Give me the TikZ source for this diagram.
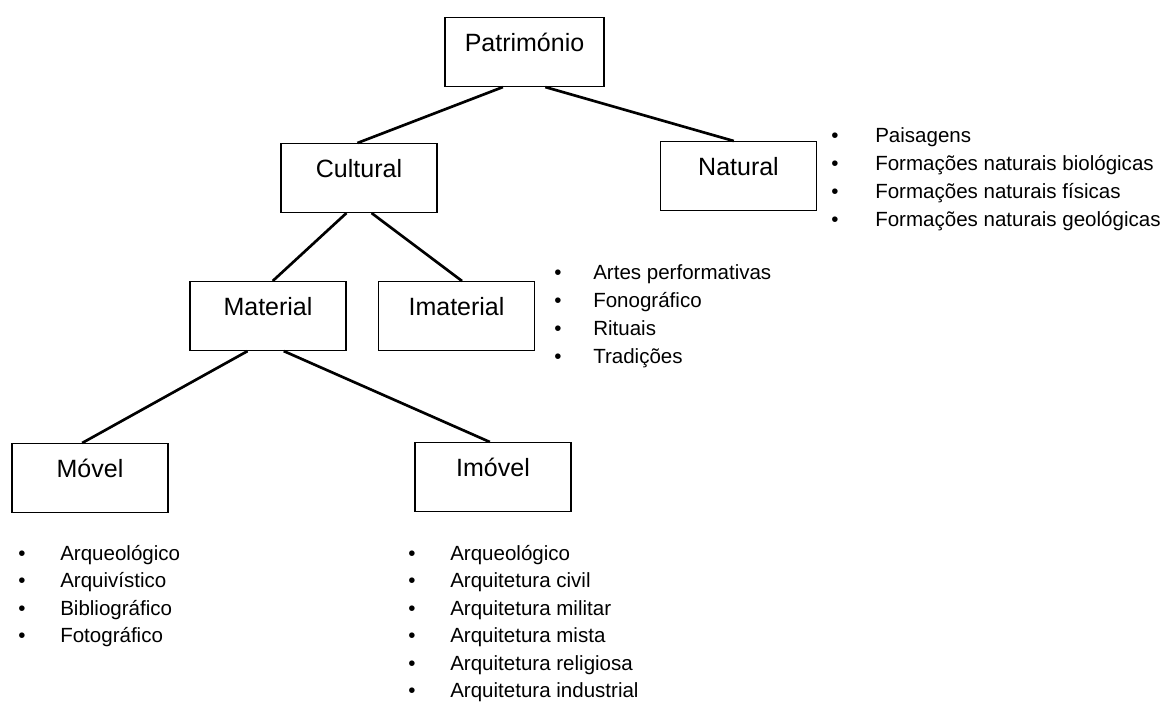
\documentclass[tikz,border=0pt]{standalone}
\usepackage{fontspec}
\setmainfont{Liberation Sans}
\usetikzlibrary{calc}
\tikzset{
  box/.style={draw, line width=0.8pt, rectangle, inner sep=0pt, minimum width=117pt,
    text height=25.5pt, text depth=26.25pt, anchor=north,
    font=\fontsize{18.75pt}{22pt}\selectfont},
  conn/.style={line width=2pt},
  itemtxt/.style={anchor=base west, inner sep=0pt, font=\fontsize{15.4pt}{18pt}\selectfont},
  bul/.style={anchor=base, inner sep=0pt, font=\fontsize{15.4pt}{18pt}\selectfont},
}
\begin{document}
\begin{tikzpicture}[x=0.75pt, y=-0.75pt]
\useasboundingbox (0,0) rectangle (1166,702);
% boxes
\node[box, minimum width=119.25pt] (patr) at (524.5,17) {Património};
\node[box] (cult) at (359,143) {Cultural};
\node[box] (nat) at (738.5,141) {Natural};
\node[box] (mat) at (268,281) {Material};
\node[box] (imat) at (456.5,281) {Imaterial};
\node[box] (mov) at (90,443) {Móvel};
\node[box] (imov) at (493,442) {Imóvel};
% connectors
\draw[conn] ($(patr.south west)!0.365!(patr.south east)$) -- ($(cult.north west)!0.49!(cult.north east)$);
\draw[conn] ($(patr.south west)!0.63!(patr.south east)$) -- ($(nat.north west)!0.47!(nat.north east)$);
\draw[conn] ($(cult.south west)!0.42!(cult.south east)$) -- ($(mat.north west)!0.53!(mat.north east)$);
\draw[conn] ($(cult.south west)!0.58!(cult.south east)$) -- ($(imat.north west)!0.535!(imat.north east)$);
\draw[conn] ($(mat.south west)!0.37!(mat.south east)$) -- ($(mov.north west)!0.45!(mov.north east)$);
\draw[conn] ($(mat.south west)!0.6!(mat.south east)$) -- ($(imov.north west)!0.48!(imov.north east)$);
% Natural list
\node[bul] (nb1) at (835,143) {•};
\node[itemtxt] (n1) at (875,143) {Paisagens};
\node[bul] (nb2) at (835,171) {•};
\node[itemtxt] (n2) at (875,171) {Formações naturais biológicas};
\node[bul] (nb3) at (835,199) {•};
\node[itemtxt] (n3) at (875,199) {Formações naturais físicas};
\node[bul] (nb4) at (835,227) {•};
\node[itemtxt] (n4) at (875,227) {Formações naturais geológicas};
% Imaterial list
\node[bul] (ib1) at (558,279) {•};
\node[itemtxt] (i1) at (593,279) {Artes performativas};
\node[bul] (ib2) at (558,307) {•};
\node[itemtxt] (i2) at (593,307) {Fonográfico};
\node[bul] (ib3) at (558,335) {•};
\node[itemtxt] (i3) at (593,335) {Rituais};
\node[bul] (ib4) at (558,363) {•};
\node[itemtxt] (i4) at (593,363) {Tradições};
% Movel list
\node[bul] (mb1) at (22,560) {•};
\node[itemtxt] (m1) at (60,560) {Arqueológico};
\node[bul] (mb2) at (22,587.5) {•};
\node[itemtxt] (m2) at (60,587.5) {Arquivístico};
\node[bul] (mb3) at (22,615) {•};
\node[itemtxt] (m3) at (60,615) {Bibliográfico};
\node[bul] (mb4) at (22,642.5) {•};
\node[itemtxt] (m4) at (60,642.5) {Fotográfico};
% Imovel list
\node[bul] (vb1) at (412,560) {•};
\node[itemtxt] (v1) at (450,560) {Arqueológico};
\node[bul] (vb2) at (412,587.5) {•};
\node[itemtxt] (v2) at (450,587.5) {Arquitetura civil};
\node[bul] (vb3) at (412,615) {•};
\node[itemtxt] (v3) at (450,615) {Arquitetura militar};
\node[bul] (vb4) at (412,642.5) {•};
\node[itemtxt] (v4) at (450,642.5) {Arquitetura mista};
\node[bul] (vb5) at (412,670) {•};
\node[itemtxt] (v5) at (450,670) {Arquitetura religiosa};
\node[bul] (vb6) at (412,697) {•};
\node[itemtxt] (v6) at (450,697) {Arquitetura industrial};
\end{tikzpicture}
\end{document}
